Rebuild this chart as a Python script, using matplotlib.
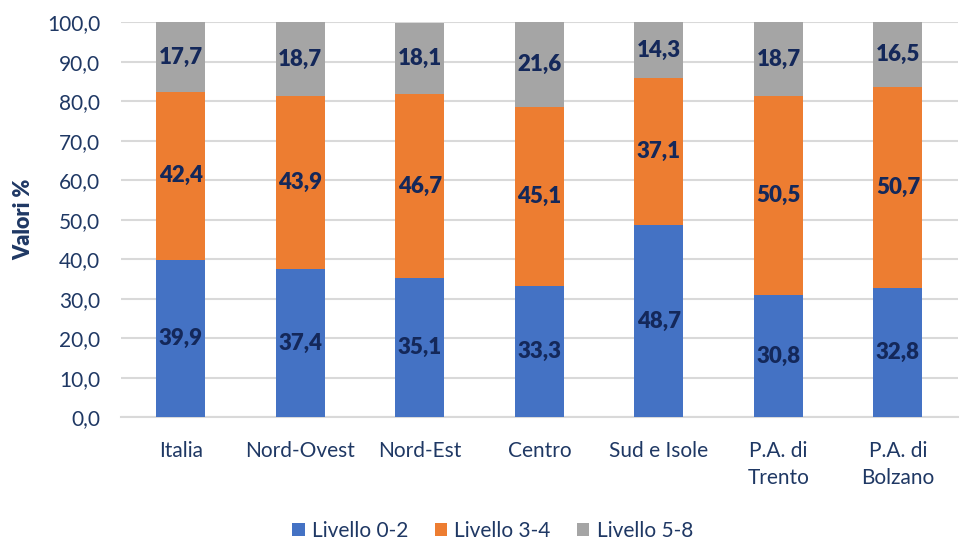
import matplotlib.pyplot as plt
import numpy as np

categorie = ['Italia', 'Nord-Ovest', 'Nord-Est', 'Centro', 'Sud e Isole',
             'P.A. di\nTrento', 'P.A. di\nBolzano']
livello_0_2 = [39.9, 37.4, 35.1, 33.3, 48.7, 30.8, 32.8]
livello_3_4 = [42.4, 43.9, 46.7, 45.1, 37.1, 50.5, 50.7]
livello_5_8 = [17.7, 18.7, 18.1, 21.6, 14.3, 18.7, 16.5]
serie = ['Livello 0-2', 'Livello 3-4', 'Livello 5-8']

colori = ['#4472C4', '#ED7D31', '#A5A5A5']
testo = '#1F3864'
etichette = '#14285A'

plt.rcParams['font.family'] = ['Lato', 'DejaVu Sans']

fig = plt.figure(figsize=(9.64, 5.41), dpi=100)
ax = fig.add_axes([0.1255, 0.229, 0.868, 0.730])

x = np.arange(len(categorie))
base = np.zeros(len(categorie))
for valori, nome, col in zip([livello_0_2, livello_3_4, livello_5_8], serie, colori):
    valori = np.array(valori)
    ax.bar(x, valori, width=0.41, bottom=base, color=col, label=nome, zorder=3)
    for xi, b, v in zip(x, base, valori):
        ax.text(xi, b + v / 2, f'{v:.1f}'.replace('.', ','), ha='center', va='center',
                fontsize=16, fontweight='heavy', color=etichette, zorder=4)
    base = base + valori

ax.set_xlim(-0.5, len(categorie) - 0.5)
ax.set_ylim(0, 100)
ax.set_yticks(np.arange(0, 101, 10))
ax.set_yticklabels([f'{v:.1f}'.replace('.', ',') for v in np.arange(0, 101, 10)])
ax.set_xticks(x)
ax.set_xticklabels(categorie, linespacing=1.45)
ax.tick_params(axis='both', length=0, labelsize=15, labelcolor=testo)
ax.tick_params(axis='x', pad=17)
ax.tick_params(axis='y', pad=15)
ax.grid(axis='y', color='#D9D9D9', linewidth=1.5, zorder=0)
for s in ['top', 'right', 'left']:
    ax.spines[s].set_visible(False)
ax.spines['bottom'].set_color('#D9D9D9')
ax.spines['bottom'].set_linewidth(1.5)

ax.set_ylabel('Valori %', fontsize=15.5, fontweight='heavy', color=testo, labelpad=9)

fig.legend(loc='lower center', bbox_to_anchor=(0.511, -0.035), ncol=3, frameon=False,
           fontsize=15, handlelength=0.6, handleheight=0.6, columnspacing=1.25,
           handletextpad=0.35, labelcolor=testo)

fig.savefig('out.png', dpi=100)
